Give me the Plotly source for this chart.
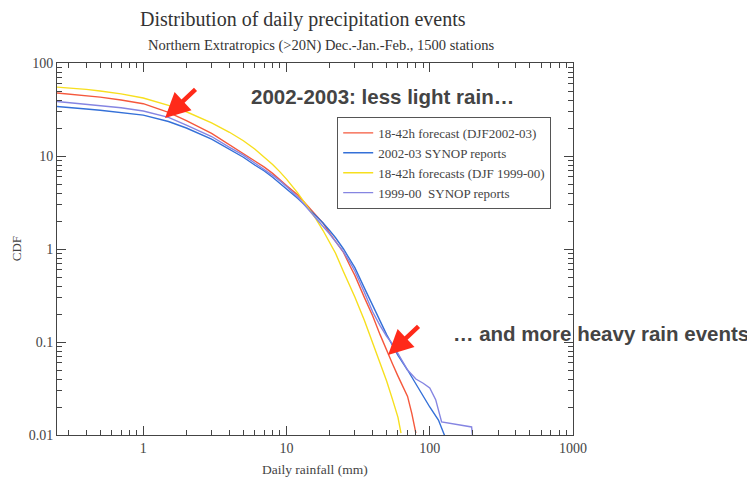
import plotly.graph_objects as go

# ---- data ----
fc_0203_x = [0.25, 0.3, 0.4, 0.5, 0.7, 1, 1.5, 2, 3, 4, 5, 6, 7, 8, 9, 10, 12, 14, 16, 18, 20,
             22, 25, 28, 30, 35, 40, 45, 50, 55, 60, 65, 70, 75, 80]
fc_0203_y = [47.5, 46.5, 44.8, 43, 40, 36.5, 29.5, 24, 17.5, 13.2, 10.8, 9.0, 7.6, 6.5, 5.5, 4.8,
             3.8, 2.95, 2.35, 1.9, 1.48, 1.22, 0.92, 0.64, 0.52, 0.3, 0.19, 0.12, 0.08, 0.058,
             0.043, 0.033, 0.026, 0.017, 0.0105]

syn_0203_x = [0.25, 0.3, 0.4, 0.5, 0.7, 1, 1.5, 2, 3, 4, 5, 6, 7, 8, 9, 10, 12, 14, 16, 18, 20,
              22, 25, 28, 30, 35, 40, 45, 50, 55, 60, 70, 80, 90, 100, 115, 130]
syn_0203_y = [34, 33, 32, 31, 29.5, 27.5, 23.5, 20, 15.2, 11.8, 9.7, 8.0, 6.9, 5.9, 5.1, 4.45,
              3.5, 2.8, 2.3, 1.9, 1.58, 1.32, 1.0, 0.76, 0.63, 0.38, 0.245, 0.165, 0.12, 0.092,
              0.072, 0.05, 0.035, 0.026, 0.02, 0.0145, 0.009]

fc_9900_x = [0.25, 0.3, 0.4, 0.5, 0.7, 1, 1.5, 2, 3, 4, 5, 6, 7, 8, 9, 10, 12, 14, 16, 18, 20,
             22, 25, 28, 30, 35, 40, 45, 50, 55, 60, 63]
fc_9900_y = [55, 54, 52, 50, 46.5, 42, 35, 29.9, 22.7, 18.0, 14.6, 11.9, 9.8, 8.1, 6.75, 5.64,
             3.99, 2.89, 2.12, 1.58, 1.19, 0.9, 0.57, 0.39, 0.305, 0.17, 0.098, 0.06, 0.038,
             0.024, 0.0155, 0.0105]

syn_9900_x = [0.25, 0.3, 0.4, 0.5, 0.7, 1, 1.5, 2, 3, 4, 5, 6, 7, 8, 9, 10, 12, 14, 16, 18, 20,
              22, 25, 28, 30, 35, 40, 45, 50, 55, 60, 70, 80, 90, 100, 110, 121, 196, 200]
syn_9900_y = [38.5, 37.5, 36.2, 35, 33, 30.5, 26, 21.5, 16.2, 12.4, 10.2, 8.4, 7.2, 6.2, 5.4,
              4.7, 3.6, 2.75, 2.15, 1.75, 1.45, 1.2, 0.93, 0.7, 0.58, 0.34, 0.21, 0.15, 0.115,
              0.095, 0.075, 0.05, 0.04, 0.036, 0.032, 0.024, 0.0138, 0.0122, 0.009]

series_names = ["18-42h forecast (DJF2002-03)", "2002-03 SYNOP reports",
                "18-42h forecasts (DJF 1999-00)", "1999-00  SYNOP reports"]
series_colors = ["#f5583c", "#3470d8", "#f7df1e", "#8585e2"]

x_ticks = [1, 10, 100, 1000]
y_ticks = [0.01, 0.1, 1, 10, 100]

SERIF = "Liberation Serif, Times New Roman, serif"
SANS = "Liberation Sans, Arial, sans-serif"

fig = go.Figure()
data = [(fc_0203_x, fc_0203_y), (syn_0203_x, syn_0203_y),
        (fc_9900_x, fc_9900_y), (syn_9900_x, syn_9900_y)]
for (xs, ys), name, col in zip(data, series_names, series_colors):
    fig.add_trace(go.Scatter(x=xs, y=ys, mode="lines", name=name,
                             line=dict(color=col, width=1.4)))

axis_common = dict(
    type="log", showgrid=False, zeroline=False, showline=True, linecolor="#444",
    linewidth=1, mirror="allticks", ticks="inside", ticklen=9, tickcolor="#444",
    exponentformat="none", tickfont=dict(family=SERIF, size=14, color="#444"),
    minor=dict(ticks="inside", ticklen=5, tickcolor="#444", dtick="D1", showgrid=False),
)
fig.update_xaxes(range=[-0.60206, 3], tickmode="array", tickvals=x_ticks,
                 ticktext=[str(v) for v in x_ticks], **axis_common)
fig.update_yaxes(range=[-2, 2], tickmode="array", tickvals=y_ticks,
                 ticktext=["0.01", "0.1", "1", "10", "100"], **axis_common)

ann = []
ann.append(dict(text="Distribution of daily precipitation events", xref="paper", yref="paper",
                x=0.477, y=1.116, showarrow=False, xanchor="center", yanchor="middle",
                font=dict(family=SERIF, size=20, color="#333")))
ann.append(dict(text="Northern Extratropics (>20N) Dec.-Jan.-Feb., 1500 stations", xref="paper",
                yref="paper", x=0.512, y=1.048, showarrow=False, xanchor="center",
                yanchor="middle", font=dict(family=SERIF, size=14.5, color="#333")))
ann.append(dict(text="Daily rainfall (mm)", xref="paper", yref="paper", x=0.5, y=-0.094,
                showarrow=False, xanchor="center", yanchor="middle",
                font=dict(family=SERIF, size=13.5, color="#444")))
ann.append(dict(text="CDF", xref="paper", yref="paper", x=-0.079, y=0.5, textangle=-90,
                showarrow=False, xanchor="center", yanchor="middle",
                font=dict(family=SERIF, size=13, color="#444")))
ann.append(dict(text="<b>2002-2003: less light rain…</b>", xref="paper", yref="paper",
                x=0.630, y=0.911, showarrow=False, xanchor="center", yanchor="middle",
                font=dict(family=SANS, size=20.5, color="#444")))
ann.append(dict(text="<b>… and more heavy rain events</b>", xref="paper", yref="paper",
                x=1.054, y=0.274, showarrow=False, xanchor="center", yanchor="middle",
                font=dict(family=SANS, size=20.5, color="#444")))
for hx, hy in [(0.2093, 0.852), (0.6415, 0.215)]:
    ann.append(dict(text="", xref="paper", yref="paper", x=hx, y=hy, ax=32, ay=-30,
                    showarrow=True, arrowhead=2, arrowsize=1.1, arrowwidth=4.5,
                    arrowcolor="#ff2a1a"))

fig.update_layout(
    width=755, height=484, paper_bgcolor="white", plot_bgcolor="white",
    margin=dict(l=49, r=190, t=55, b=57),
    showlegend=True,
    legend=dict(x=0.543, y=0.855, xanchor="left", yanchor="top", bgcolor="white",
                bordercolor="#555", borderwidth=1, itemwidth=30, tracegroupgap=0,
                font=dict(family=SERIF, size=13, color="#444")),
    annotations=ann,
)

fig.write_html("out.html")
